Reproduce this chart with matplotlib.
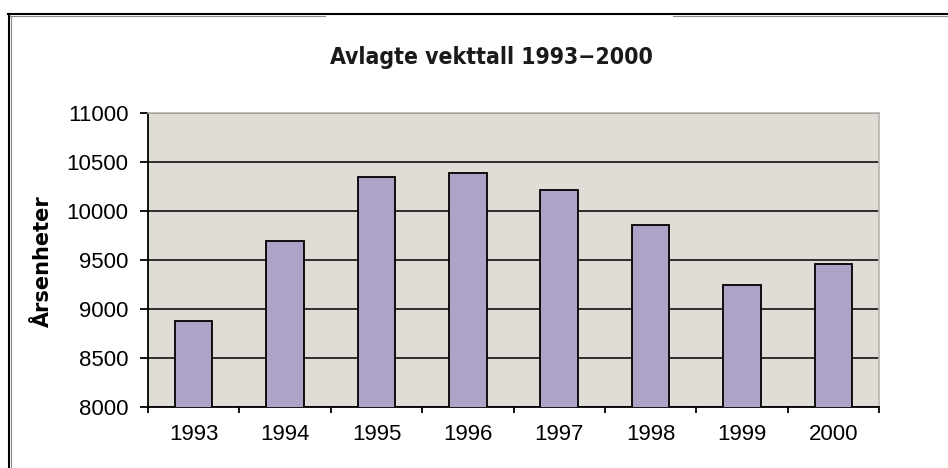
import matplotlib
matplotlib.use('Agg')
import matplotlib.pyplot as plt
from matplotlib.lines import Line2D
import numpy as np

# data
years = ['1993', '1994', '1995', '1996', '1997', '1998', '1999', '2000']
values = [8880, 9690, 10350, 10385, 10210, 9860, 9240, 9455]
y_ticks = [8000, 8500, 9000, 9500, 10000, 10500, 11000]

plt.rcParams['font.family'] = ['Liberation Sans', 'DejaVu Sans']

W, H = 948, 468
fig = plt.figure(figsize=(W / 100, H / 100), dpi=100)
fig.patch.set_facecolor('white')

# plot area, in pixels of the reference
left, right, top, bottom = 148, 879, 113, 407
ax = fig.add_axes([left / W, 1 - bottom / H, (right - left) / W, (bottom - top) / H])
ax.set_facecolor('#E0DCD6')

x = np.arange(len(years))
ax.set_axisbelow(True)
ax.yaxis.grid(True, color='black', linewidth=1.1)
ax.bar(x, values, width=0.41, color='#ADA3C7', edgecolor='black', linewidth=1.3, zorder=3)

ax.set_ylim(8000, 11000)
ax.set_xlim(-0.5, len(years) - 0.5)
ax.set_yticks(y_ticks)
ax.set_yticklabels([str(v) for v in y_ticks], fontsize=16)

# ticks sit between the categories, labels at the centres
ax.set_xticks(np.arange(-0.5, len(years), 1.0))
ax.set_xticklabels([])
ax.set_xticks(x, minor=True)
ax.set_xticklabels(years, minor=True, fontsize=16)
ax.tick_params(axis='x', which='major', length=4.5, width=1.3, direction='out')
ax.tick_params(axis='x', which='minor', length=0, pad=12)
ax.tick_params(axis='y', length=6, width=1.3, direction='out', pad=8)

for s in ['left', 'bottom']:
    ax.spines[s].set_color('black')
    ax.spines[s].set_linewidth(1.3)
for s in ['top', 'right']:
    ax.spines[s].set_color('#B8B4B0')
    ax.spines[s].set_linewidth(1.2)

fig.text(43 / W, 1 - 261 / H, 'Årsenheter', rotation=90, ha='center', va='center',
         fontsize=15, fontweight='bold', family=['DejaVu Sans'])

fig.text(491 / W, 1 - 64 / H, 'Avlagte vekttall 1993\u22122000',
         ha='center', va='baseline', fontsize=16.5, fontweight='bold',
         fontstretch='condensed', family=['DejaVu Sans'], color='#1A1A1A')

# outer frame: black edge with a grey inner shadow
yb = 1 - 13.5 / H
ys = 1 - 15.5 / H
fig.add_artist(Line2D([8.5 / W, 8.5 / W], [0, yb], color='black', linewidth=1.5))
fig.add_artist(Line2D([10.5 / W, 10.5 / W], [0, ys], color='#8C8C8C', linewidth=0.8))
fig.add_artist(Line2D([8 / W, 1], [yb, yb], color='black', linewidth=1.5))
fig.add_artist(Line2D([10 / W, 325 / W], [ys, ys], color='#8C8C8C', linewidth=0.8))
fig.add_artist(Line2D([673 / W, 1], [ys, ys], color='#8C8C8C', linewidth=0.8))

fig.savefig('out.png', dpi=100)
